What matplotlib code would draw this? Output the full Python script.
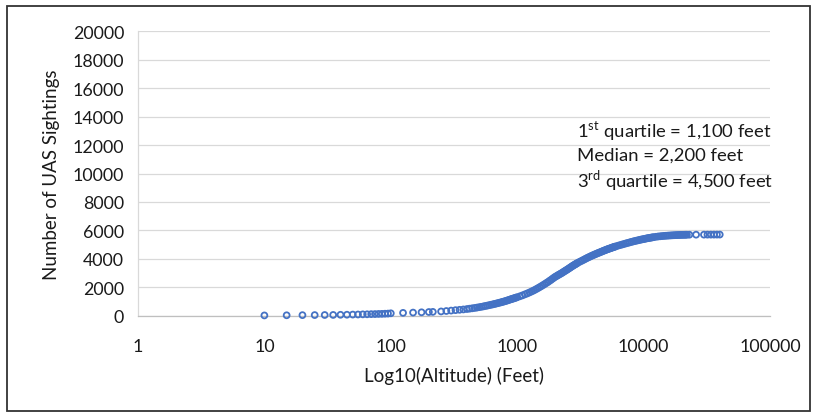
import matplotlib.pyplot as plt
import matplotlib.patches as patches
from matplotlib.ticker import FixedLocator, NullLocator

plt.rcParams['font.family'] = ['Lato', 'DejaVu Sans']
plt.rcParams['mathtext.fontset'] = 'custom'
plt.rcParams['mathtext.rm'] = 'Lato'

# altitude (feet) and cumulative number of sightings
altitude = [
    10, 15, 20, 25, 30, 35, 40, 45, 50, 55, 60, 65, 70, 75, 80, 85, 90, 95, 100,
    125, 150, 175, 200, 215, 250, 275, 300, 325, 350, 375, 400,
    420, 440, 460, 480, 500, 520, 540, 560, 580, 600, 620, 640, 660, 680, 700,
    720, 740, 760, 780, 800, 820, 840, 860, 880, 900, 920, 940, 960, 980, 1000,
    1050, 1100, 1150, 1200, 1250, 1300, 1350, 1400, 1450, 1500, 1550, 1600,
    1650, 1700, 1750, 1800, 1850, 1900, 1950, 2000, 2050, 2100, 2150, 2200,
    2250, 2300, 2350, 2400, 2450, 2500, 2550, 2600, 2650, 2700, 2750, 2800,
    2850, 2900, 2950, 3000,
    3100, 3200, 3300, 3400, 3500, 3600, 3700, 3800, 3900, 4000, 4100, 4200,
    4300, 4400, 4500, 4600, 4700, 4800, 4900, 5000, 5100, 5200, 5300, 5400,
    5500, 5600, 5700, 5800, 5900, 6000,
    6250, 6500, 6750, 7000, 7250, 7500, 7750, 8000, 8250, 8500, 8750, 9000,
    9250, 9500, 9750, 10000, 10250, 10500, 10750, 11000, 11250, 11500, 11750, 12000,
    12500, 13000, 13500, 14000, 14500, 15000, 15500, 16000, 16500, 17000,
    17500, 18000, 18500, 19000, 19500, 20000, 20500, 21000, 21500, 22000,
    23000, 26000, 30000, 32000, 34000, 36000, 38000, 40000,
]
sightings = [
    20, 30, 40, 45, 50, 55, 65, 70, 80, 85, 95, 100, 110, 115, 125, 130, 140, 150, 170,
    200, 220, 240, 260, 270, 300, 330, 360, 390, 415, 440, 470,
    495, 520, 545, 570, 600, 625, 655, 685, 710, 740, 770, 795, 825, 850, 880,
    910, 935, 965, 990, 1020, 1050, 1080, 1110, 1140, 1170, 1195, 1220, 1250, 1275, 1300,
    1365, 1430, 1500, 1565, 1635, 1705, 1775, 1850, 1925, 2000, 2075, 2150,
    2225, 2300, 2370, 2450, 2520, 2600, 2670, 2740, 2790, 2850, 2900, 2950,
    3000, 3055, 3110, 3160, 3210, 3260, 3310, 3360, 3410, 3460, 3505, 3550,
    3590, 3630, 3670, 3710,
    3780, 3840, 3900, 3960, 4020, 4075, 4125, 4175, 4220, 4265, 4305, 4345,
    4385, 4420, 4455, 4490, 4525, 4560, 4590, 4620, 4650, 4680, 4705, 4730,
    4755, 4780, 4805, 4830, 4850, 4870,
    4920, 4965, 5005, 5045, 5085, 5120, 5155, 5190, 5220, 5250, 5275, 5300,
    5325, 5350, 5370, 5390, 5410, 5430, 5450, 5465, 5480, 5495, 5510, 5525,
    5550, 5570, 5585, 5600, 5612, 5622, 5632, 5640, 5648, 5655,
    5661, 5667, 5672, 5676, 5680, 5684, 5687, 5690, 5692, 5694,
    5696, 5698, 5700, 5701, 5702, 5703, 5704, 5705,
]

x_ticks = [1, 10, 100, 1000, 10000, 100000]
y_ticks = list(range(0, 20001, 2000))

notes = [
    r'1$^{\rm st}$ quartile = 1,100 feet',
    'Median = 2,200 feet',
    r'3$^{\rm rd}$ quartile = 4,500 feet',
]

fig = plt.figure(figsize=(8.14, 4.14), dpi=100)
ax = fig.add_axes([0.1695, 0.235, 0.7765, 0.687])

ax.scatter(altitude, sightings, s=18, facecolors='none', edgecolors='#4472C4',
           linewidths=1.3, zorder=3, clip_on=False)

ax.set_xscale('log')
ax.set_xlim(1, 100000)
ax.set_ylim(0, 20000)
ax.xaxis.set_major_locator(FixedLocator(x_ticks))
ax.xaxis.set_minor_locator(NullLocator())
ax.set_xticklabels([str(t) for t in x_ticks])
ax.set_yticks(y_ticks)
ax.set_yticklabels([str(t) for t in y_ticks])

ax.grid(axis='y', color='#D9D9D9', linewidth=0.9)
ax.set_axisbelow(True)
for side in ['top', 'right']:
    ax.spines[side].set_visible(False)
ax.spines['left'].set_color('#D9D9D9')
ax.spines['bottom'].set_color('#BFBFBF')
ax.spines['left'].set_linewidth(0.9)
ax.spines['bottom'].set_linewidth(0.9)
ax.tick_params(length=0, labelsize=12.8, colors='#1a1a1a')
ax.tick_params(axis='x', pad=16)
ax.tick_params(axis='y', pad=10)

ax.set_xlabel('Log10(Altitude) (Feet)', fontsize=13.5, labelpad=9, color='#1a1a1a')
ax.set_ylabel('Number of UAS Sightings', fontsize=13.5, labelpad=9, color='#1a1a1a')

for i, note in enumerate(notes):
    fig.text(577 / 814, 1 - (131 + i * 25) / 414, note, fontsize=13.3,
             va='center', ha='left', color='#1a1a1a')

# outer frame
fig.patches.append(patches.Rectangle((7 / 814, 2 / 414), 803 / 814, 405 / 414,
                                     transform=fig.transFigure, fill=False,
                                     edgecolor='#333333', linewidth=1.3))

fig.savefig('out.png', dpi=100)
